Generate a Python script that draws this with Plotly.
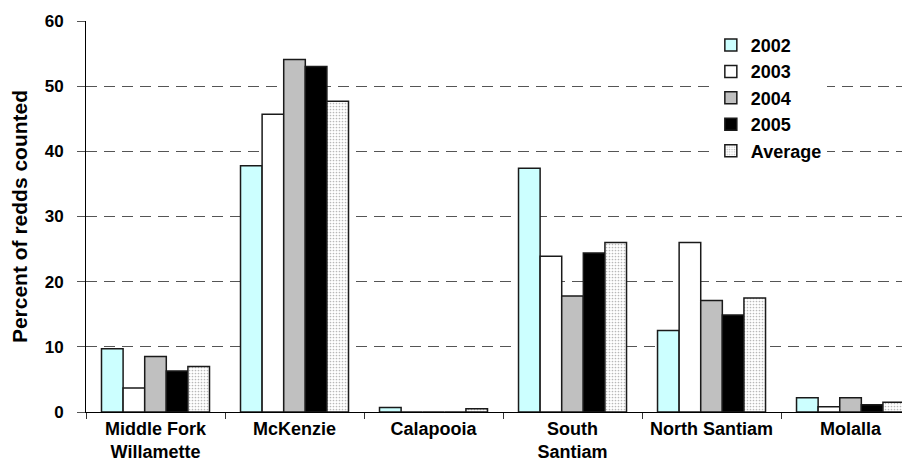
import plotly.graph_objects as go

categories = ["Middle Fork<br>Willamette", "McKenzie", "Calapooia", "South<br>Santiam", "North Santiam", "Molalla"]
series_names = ["2002", "2003", "2004", "2005", "Average"]
v2002 = [9.7, 37.8, 0.7, 37.4, 12.5, 2.2]
v2003 = [3.7, 45.7, 0.0, 23.9, 26.0, 0.8]
v2004 = [8.5, 54.1, 0.0, 17.8, 17.1, 2.2]
v2005 = [6.3, 53.0, 0.0, 24.4, 14.9, 1.1]
vavg = [7.0, 47.7, 0.5, 26.0, 17.5, 1.5]
y_ticks = [0, 10, 20, 30, 40, 50, 60]

values = [v2002, v2003, v2004, v2005, vavg]
fills = ["#CCFFFF", "#FFFFFF", "#C0C0C0", "#000000", "#FFFFFF"]

fig = go.Figure()
for name, vals, col in zip(series_names, values, fills):
    marker = dict(color=col, line=dict(color="#1a1a1a", width=1.5))
    if name == "Average":
        marker["pattern"] = dict(shape=".", fgcolor="#b8b8b8", bgcolor="#FFFFFF",
                                 size=3, solidity=0.25, fillmode="replace")
    fig.add_trace(go.Bar(name=name, x=categories, y=vals, marker=marker))

font_family = "Liberation Sans, Arial, sans-serif"
fig.update_layout(
    width=902, height=463,
    margin=dict(l=78, r=4, t=13, b=59),
    paper_bgcolor="white", plot_bgcolor="white",
    barmode="group", bargap=0.223, bargroupgap=0,
    font=dict(family=font_family, color="black"),
    showlegend=True,
    legend=dict(x=0.762, y=0.985, xanchor="left", yanchor="top",
                bgcolor="white", borderwidth=0,
                font=dict(size=18, family=font_family, color="black", weight="bold"),
                tracegroupgap=0, itemwidth=30),
    xaxis=dict(range=[-0.5, 5.399], tickson="boundaries", ticks="outside",
               ticklen=6, tickcolor="#333", showline=True, linecolor="black",
               linewidth=1, showgrid=False, automargin=False,
               tickfont=dict(size=18, family=font_family, weight="bold")),
    yaxis=dict(range=[0, 60], tickvals=y_ticks, ticks="outside", ticklen=8,
               tickcolor="#555", showline=True, linecolor="black", linewidth=1,
               showgrid=True, gridcolor="#555", griddash="11px,7px", gridwidth=1,
               zeroline=False, automargin=False, ticklabelstandoff=10,
               tickfont=dict(size=17, family=font_family, weight="bold"),
               title=dict(text="Percent of redds counted",
                          font=dict(size=21, family=font_family, weight="bold"),
                          standoff=15)),
)

fig.write_html("out.html")
